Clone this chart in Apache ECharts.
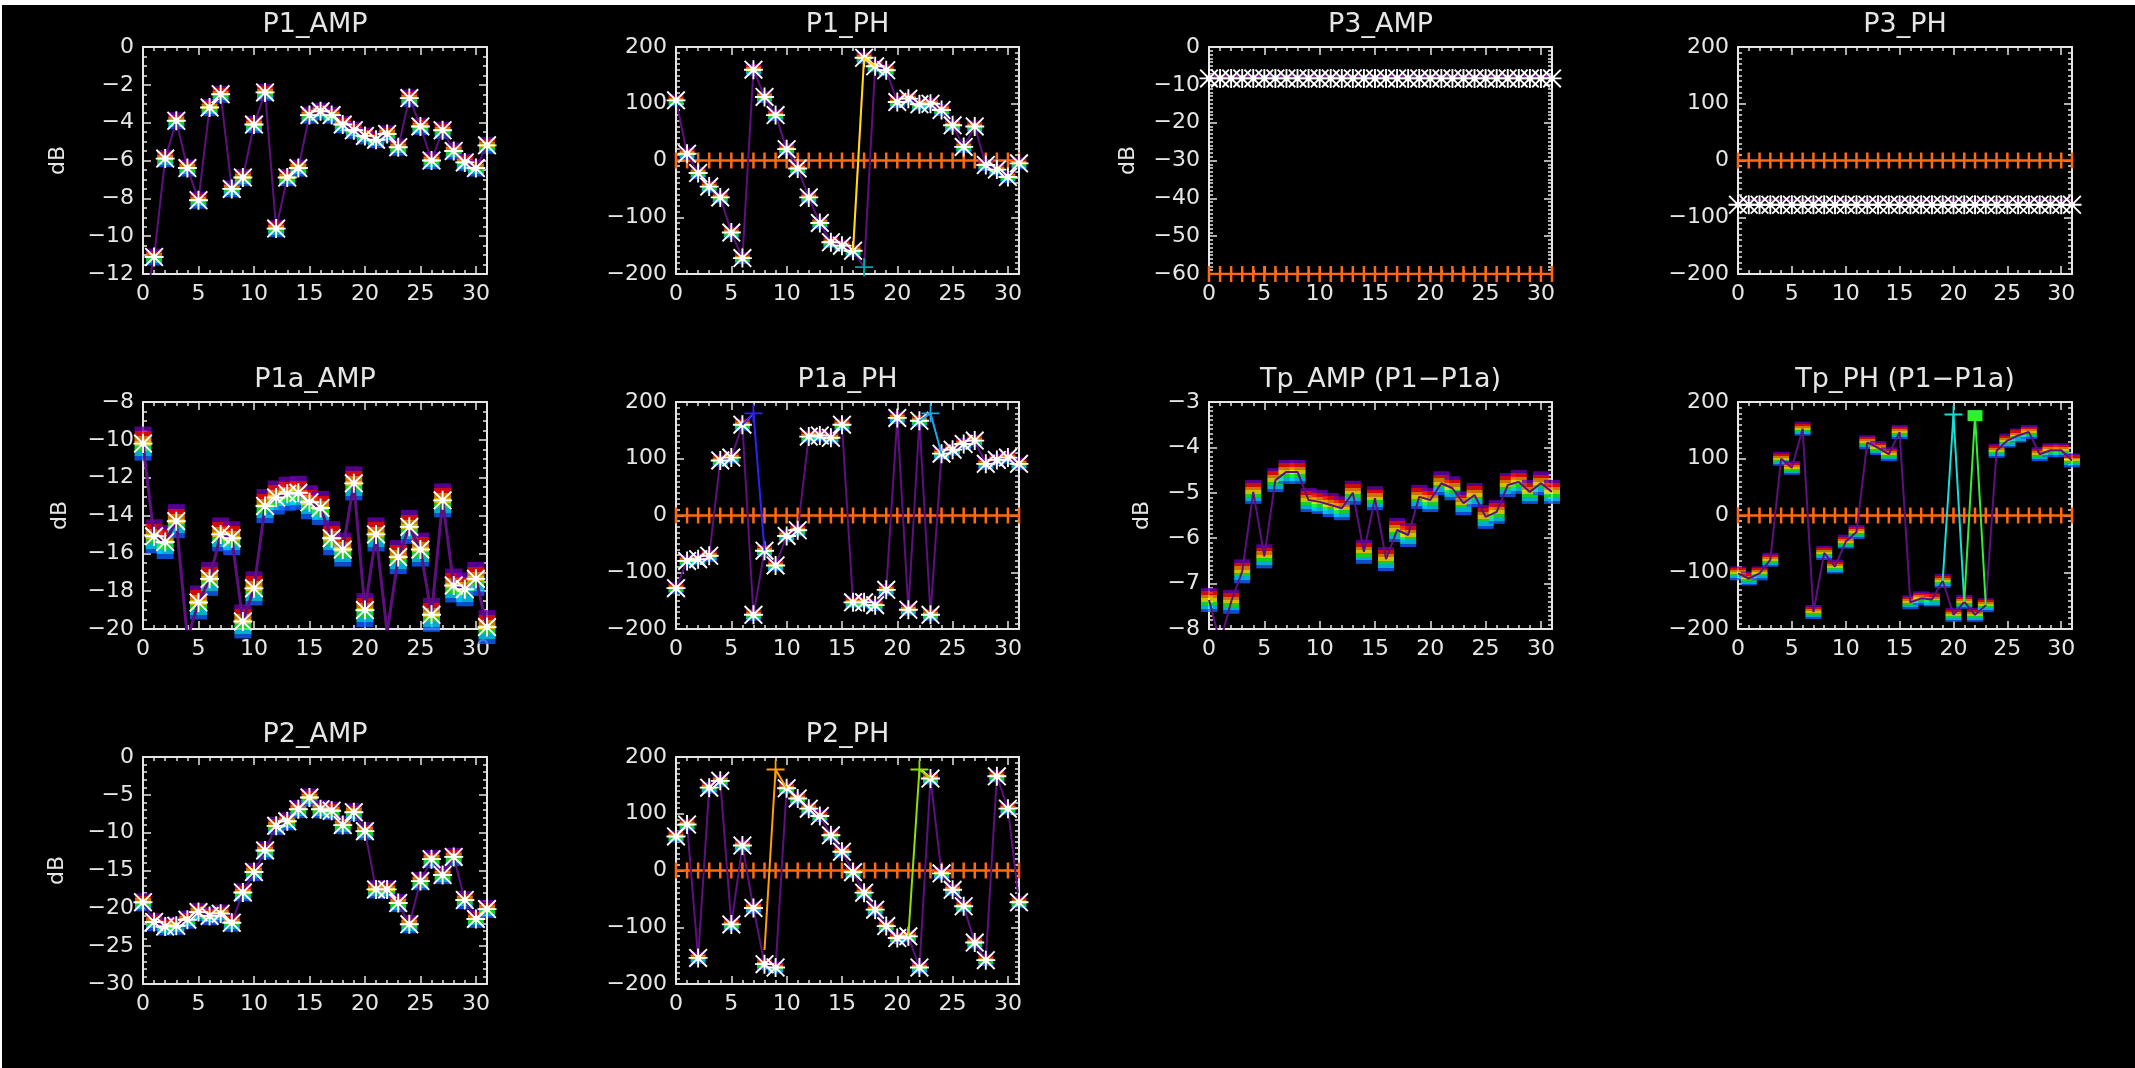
<!DOCTYPE html>
<html>
<head>
<meta charset="utf-8">
<script src="https://cdn.jsdelivr.net/npm/echarts@6/dist/echarts.min.js"></script>
<style>
html, body { margin: 0; padding: 0; background: #fff; }
#chart { width: 2135px; height: 1068px; }
</style>
</head>
<body>
<div id="chart"></div>
<script>
// channel index on x, tick labels
var chan = [0,1,2,3,4,5,6,7,8,9,10,11,12,13,14,15,16,17,18,19,20,21,22,23,24,25,26,27,28,29,30,31];
var xTicks = [0,5,10,15,20,25,30];

// values (one per channel)
var p1Amp = [-14.0,-11.1,-5.9,-3.9,-6.4,-8.1,-3.2,-2.5,-7.5,-6.9,-4.1,-2.4,-9.6,-6.9,-6.4,-3.6,-3.4,-3.6,-4.1,-4.4,-4.7,-4.9,-4.6,-5.3,-2.7,-4.2,-6.0,-4.4,-5.5,-6.1,-6.4,-5.2];
var p1Ph = [106,12,-22,-46,-65,-127,-172,160,112,80,20,-14,-65,-110,-144,-150,-159,181,166,159,103,109,99,100,89,62,24,60,-8,-16,-29,-5];
var p1PhWrap = [[16,-159],[17,-188],[18,166]];
var p1PhAlt = [[16,-159],[17,181],[18,166]];

var p3Amp = [-8.3,-8.3,-8.3,-8.3,-8.3,-8.3,-8.3,-8.3,-8.3,-8.3,-8.3,-8.3,-8.3,-8.3,-8.3,-8.3,-8.3,-8.3,-8.3,-8.3,-8.3,-8.3,-8.3,-8.3,-8.3,-8.3,-8.3,-8.3,-8.3,-8.3,-8.3,-8.3];
var p3AmpLine = [-7.6,-7.6,-7.6,-7.6,-7.6,-7.6,-7.6,-7.6,-7.6,-7.6,-7.6,-7.6,-7.6,-7.6,-7.6,-7.6,-7.6,-7.6,-7.6,-7.6,-7.6,-7.6,-7.6,-7.6,-7.6,-7.6,-7.6,-7.6,-7.6,-7.6,-7.6,-7.6];
var p3AmpRef = [-60,-60,-60,-60,-60,-60,-60,-60,-60,-60,-60,-60,-60,-60,-60,-60,-60,-60,-60,-60,-60,-60,-60,-60,-60,-60,-60,-60,-60,-60,-60,-60];
var p3Ph = [-78,-78,-78,-78,-78,-78,-78,-78,-78,-78,-78,-78,-78,-78,-78,-78,-78,-78,-78,-78,-78,-78,-78,-78,-78,-78,-78,-78,-78,-78,-78,-78];
var p3PhLine = [-70,-70,-70,-70,-70,-70,-70,-70,-70,-70,-70,-70,-70,-70,-70,-70,-70,-70,-70,-70,-70,-70,-70,-70,-70,-70,-70,-70,-70,-70,-70,-70];
var phaseRef = [0,0,0,0,0,0,0,0,0,0,0,0,0,0,0,0,0,0,0,0,0,0,0,0,0,0,0,0,0,0,0,0];

var p1aAmp = [-10.2,-15.1,-15.4,-14.3,-20.5,-18.6,-17.35,-15.0,-15.2,-19.6,-17.85,-13.5,-13.05,-12.85,-12.8,-13.3,-13.6,-15.2,-15.8,-12.3,-19.0,-15.0,-20.2,-16.2,-14.6,-15.8,-19.25,-13.2,-17.7,-17.9,-17.35,-19.9];
var p1aPh = [-128,-80,-77,-71,97,102,160,-175,-62,-88,-36,-26,139,141,137,160,-153,-153,-158,-131,172,-166,167,-175,109,116,126,132,91,98,102,91];
var p1aPhAltA = [[6,160],[7,180],[8,-62]];
var p1aPhAltB = [[22,167],[23,180],[24,109]];

var tpAmp = [-7.36,-8.3,-7.4,-6.73,-4.98,-6.4,-4.72,-4.54,-4.54,-5.16,-5.2,-5.27,-5.34,-5.0,-6.3,-5.12,-6.46,-5.82,-5.93,-5.09,-5.16,-4.79,-4.9,-5.23,-5.05,-5.53,-5.42,-4.83,-4.76,-4.98,-4.79,-4.98];
var tpPh = [-102,-111,-102,-78,100,84,153,-170,-66,-90,-46,-29,129,119,108,147,-153,-146,-148,-115,-175,-152,-175,-158,114,132,141,147,108,115,115,97];
var tpPhAltA = [[19,-115],[20,178],[21,-152]];
var tpPhAltB = [[21,-152],[22,176],[23,-158]];

var p2Amp = [-19.2,-21.8,-22.4,-22.3,-21.5,-20.5,-21.0,-20.7,-21.9,-17.9,-15.2,-12.35,-9.1,-8.5,-6.9,-5.35,-6.9,-7.1,-9.0,-7.3,-9.8,-17.5,-17.5,-19.3,-22.1,-16.4,-13.5,-15.6,-13.2,-18.9,-21.4,-20.1];
var p2Ph = [60,81,-154,146,158,-95,44,-66,-165,-171,145,127,109,96,62,33,-3,-39,-69,-98,-119,-116,-171,162,-5,-34,-63,-127,-158,166,109,-56];
var p2PhAltA = [[8,-140],[9,178],[10,145]];
var p2PhAltB = [[21,-116],[22,178],[23,162]];

var axisColor = '#e6e6e6';
var textColor = '#e6e6e6';
var font = 'DejaVu Sans';
var purple = '#5e1080';
var orange = '#ff6a10';

var star = 'path://M0 9L20 9L20 11L0 11Z M9 0L11 0L11 20L9 20Z M0 1.4L1.4 0L20 18.6L18.6 20Z M18.6 0L20 1.4L1.4 20L0 18.6Z M7 7L13 7L13 13L7 13Z';
var plus = 'path://M0 9L20 9L20 11L0 11Z M9 0L11 0L11 20L9 20Z';

var rainbow = {type: 'linear', x: 0, y: 0, x2: 0, y2: 1, colorStops: [
    {offset: 0, color: '#6a00b0'}, {offset: 0.14, color: '#6a00b0'},
    {offset: 0.14, color: '#ff1010'}, {offset: 0.29, color: '#ff1010'},
    {offset: 0.29, color: '#ff9000'}, {offset: 0.43, color: '#ff9000'},
    {offset: 0.43, color: '#ffee00'}, {offset: 0.57, color: '#ffee00'},
    {offset: 0.57, color: '#20ff30'}, {offset: 0.71, color: '#20ff30'},
    {offset: 0.71, color: '#00d8ff'}, {offset: 0.86, color: '#00d8ff'},
    {offset: 0.86, color: '#1060ff'}, {offset: 1, color: '#1060ff'}
]};

var colLeft = [143, 676, 1209, 1738];
var colWidth = [344, 343, 343, 334];
var rowTop = [47, 402, 757];
var rowTitle = [25, 380, 735];
var plotH = 227;

var panels = [
    {title: 'P1_AMP', c: 0, r: 0, min: -12, max: 0, step: 2, minor: 4, db: 58, vals: p1Amp, star: true, block: [16, 17]},
    {title: 'P1_PH', c: 1, r: 0, min: -200, max: 200, step: 100, minor: 10, vals: p1Ph, star: true, block: [15, 12], ref: phaseRef,
        extra: [{data: p1PhWrap, color: purple, mark: plus, markColor: '#00a8a8', z: 3},
                {data: p1PhAlt, color: '#ffe000', mark: null, z: 5}]},
    {title: 'P3_AMP', c: 2, r: 0, min: -60, max: 0, step: 10, minor: 10, db: 1128, vals: p3Amp, star: true, line: p3AmpLine, ref: p3AmpRef},
    {title: 'P3_PH', c: 3, r: 0, min: -200, max: 200, step: 100, minor: 10, vals: p3Ph, star: true, line: p3PhLine, ref: phaseRef},
    {title: 'P1a_AMP', c: 0, r: 1, min: -20, max: -8, step: 2, minor: 4, db: 60, vals: p1aAmp, star: true, block: [17, 34], lineW: 3},
    {title: 'P1a_PH', c: 1, r: 1, min: -200, max: 200, step: 100, minor: 10, vals: p1aPh, star: true, block: [15, 12], ref: phaseRef,
        extra: [{data: p1aPhAltA, color: '#3020ff', mark: plus, z: 5},
                {data: p1aPhAltB, color: '#18a8f0', mark: plus, z: 5}]},
    {title: 'Tp_AMP (P1\u2212P1a)', c: 2, r: 1, min: -8, max: -3, step: 1, minor: 10, db: 1142, vals: tpAmp, star: false, block: [16, 24]},
    {title: 'Tp_PH (P1\u2212P1a)', c: 3, r: 1, min: -200, max: 200, step: 100, minor: 10, vals: tpPh, star: false, block: [16, 14], ref: phaseRef,
        extra: [{data: tpPhAltA, color: '#10e0d8', mark: plus, z: 5},
                {data: tpPhAltB, color: '#30f030', mark: 'rect', markSize: [15, 11], z: 5}]},
    {title: 'P2_AMP', c: 0, r: 2, min: -30, max: 0, step: 5, minor: 5, db: 57, vals: p2Amp, star: true, block: [16, 18]},
    {title: 'P2_PH', c: 1, r: 2, min: -200, max: 200, step: 100, minor: 10, vals: p2Ph, star: true, block: [15, 12], ref: phaseRef,
        extra: [{data: p2PhAltA, color: '#ffa000', mark: plus, z: 5},
                {data: p2PhAltB, color: '#90e000', mark: plus, z: 5}]}
];

function pairs(vals) {
    return chan.map(function (c, k) { return [c, vals[k]]; });
}
function yfmt(v) { return String(v).replace('-', '\u2212'); }
function xfmt(v) { return v % 5 === 0 ? String(v) : ''; }

function xMajor(gi, pos, labels) {
    return {
        type: 'value', gridIndex: gi, position: pos, min: 0, max: 31, interval: 5,
        axisLine: {show: true, onZero: false, lineStyle: {color: axisColor, width: 2}},
        axisTick: {show: true, inside: true, length: 8, customValues: xTicks, lineStyle: {color: axisColor, width: 1.5}},
        axisLabel: {show: labels, margin: 9, color: textColor, fontSize: 22, fontFamily: font, customValues: xTicks, formatter: xfmt},
        splitLine: {show: false}
    };
}
function xMinor(gi, pos) {
    return {
        type: 'value', gridIndex: gi, position: pos, min: 0, max: 31, interval: 1,
        axisLine: {show: false, onZero: false},
        axisTick: {show: true, inside: true, length: 4, lineStyle: {color: axisColor, width: 1.5}},
        axisLabel: {show: false},
        splitLine: {show: false}
    };
}
function yAx(gi, p, pos, labels) {
    return {
        type: 'value', gridIndex: gi, position: pos, min: p.min, max: p.max, interval: p.step,
        axisLine: {show: true, onZero: false, lineStyle: {color: axisColor, width: 2}},
        axisTick: {show: true, inside: true, length: 8, lineStyle: {color: axisColor, width: 1.5}},
        minorTick: {show: true, splitNumber: p.minor, length: 4, lineStyle: {color: axisColor, width: 1.5}},
        axisLabel: {show: labels, margin: 9, color: textColor, fontSize: 22, fontFamily: font, formatter: yfmt},
        splitLine: {show: false},
        minorSplitLine: {show: false}
    };
}

var grids = [], xAxes = [], yAxes = [], series = [];
var graphics = [
    {type: 'rect', shape: {x: 0, y: 0, width: 2135, height: 5}, style: {fill: '#ffffff'}, z: 100},
    {type: 'rect', shape: {x: 0, y: 0, width: 2, height: 1068}, style: {fill: '#ffffff'}, z: 100}
];

panels.forEach(function (p, i) {
    var left = colLeft[p.c], width = colWidth[p.c], top = rowTop[p.r];
    grids.push({left: left, top: top, width: width, height: plotH, show: false});
    xAxes.push(xMajor(i, 'bottom', true), xMinor(i, 'bottom'), xMajor(i, 'top', false), xMinor(i, 'top'));
    yAxes.push(yAx(i, p, 'left', true), yAx(i, p, 'right', false));
    var xi = 4 * i, yi = 2 * i;

    graphics.push({
        type: 'text', x: left + width / 2, y: rowTitle[p.r],
        style: {text: p.title, fill: textColor, font: '27px "DejaVu Sans"', align: 'center', verticalAlign: 'middle'}
    });
    if (p.db) {
        graphics.push({
            type: 'text', x: p.db, y: top + plotH / 2, rotation: Math.PI / 2,
            style: {text: 'dB', fill: textColor, font: '22px "DejaVu Sans"', align: 'center', verticalAlign: 'middle'}
        });
    }

    if (p.ref) {
        series.push({
            type: 'line', xAxisIndex: xi, yAxisIndex: yi, data: pairs(p.ref), z: 1,
            symbol: 'rect', symbolSize: [2.5, 16], showAllSymbol: true,
            itemStyle: {color: orange}, lineStyle: {color: orange, width: 2.5}
        });
    }
    if (p.line) {
        series.push({
            type: 'line', xAxisIndex: xi, yAxisIndex: yi, data: pairs(p.line), z: 2,
            symbol: 'none', lineStyle: {color: '#8a2aa0', width: 2}
        });
    }
    if (p.block) {
        series.push({
            type: 'scatter', xAxisIndex: xi, yAxisIndex: yi, data: pairs(p.vals), z: 2,
            symbol: 'rect', symbolSize: p.block, itemStyle: {color: rainbow}
        });
    }
    (p.extra || []).forEach(function (e) {
        series.push({
            type: 'line', xAxisIndex: xi, yAxisIndex: yi, z: e.z,
            data: e.data.map(function (pt, k) {
                return k === 1 && e.mark ? {value: pt} : {value: pt, symbol: 'none'};
            }),
            symbol: e.mark || 'none', symbolSize: e.markSize || 18, showAllSymbol: true,
            itemStyle: {color: e.markColor || e.color},
            lineStyle: {color: e.color, width: 2}
        });
    });
    series.push({
        type: 'line', xAxisIndex: xi, yAxisIndex: yi, data: pairs(p.vals), z: 4,
        symbol: p.star ? star : 'none', symbolSize: 19, showAllSymbol: true,
        itemStyle: {color: '#ffffff'},
        lineStyle: {color: purple, width: p.lineW || 2, opacity: p.line ? 0 : 1}
    });
});

var chart = echarts.init(document.getElementById('chart'));
chart.setOption({
    backgroundColor: '#000000',
    animation: false,
    grid: grids,
    xAxis: xAxes,
    yAxis: yAxes,
    series: series,
    graphic: graphics
});
</script>
</body>
</html>
